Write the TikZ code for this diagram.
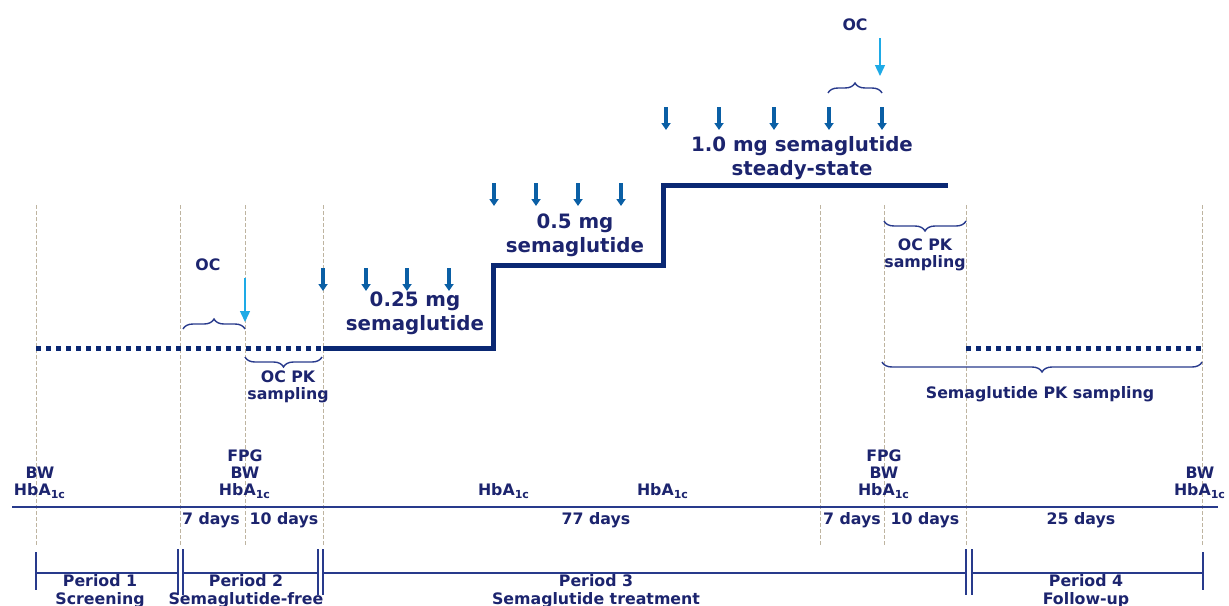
\documentclass[tikz,border=0pt]{standalone}
\usepackage{fontspec}
\setmainfont{DejaVu Sans}
\usetikzlibrary{arrows.meta,decorations.pathreplacing,calc}
\definecolor{navy}{RGB}{28,36,110}
\definecolor{lineblue}{RGB}{40,58,140}
\definecolor{doseblue}{RGB}{10,40,115}
\definecolor{ocblue}{RGB}{30,170,230}
\definecolor{injblue}{RGB}{10,95,165}
\definecolor{guidegray}{RGB}{190,180,160}

\begin{document}
\begin{tikzpicture}[x=0.5pt,y=-0.5pt]
\tikzset{
  lab/.style={font=\bfseries\fontsize{7.9}{8.7}\selectfont, text=navy, align=center, inner sep=0pt},
  doselab/.style={font=\bfseries\fontsize{9.9}{12.2}\selectfont, text=navy, align=center, inner sep=0pt},
  guide/.style={draw=guidegray, dashed, dash pattern=on 2pt off 1pt, line width=0.5pt},
  timeline/.style={draw=lineblue, line width=0.8pt},
  dosestep/.style={draw=doseblue, line width=2.5pt},
  offdose/.style={draw=doseblue, line width=2.5pt, dash pattern=on 2.5pt off 2.5pt},
  inj/.style={draw=injblue, line width=1.7pt, -{Triangle[length=3.5pt,width=4.5pt]}},
  ocarrow/.style={draw=ocblue, line width=0.7pt, -{Triangle[length=5.5pt,width=5pt]}},
  brc/.style={draw=lineblue, line width=0.7pt, decorate, decoration={brace, amplitude=5pt}},
  mbrc/.style={brc, decoration={brace, mirror, amplitude=5pt}}
}
\useasboundingbox (0,0) rectangle (1229,605);

\foreach \n/\x in {a/36, b/180, c/245, d/323, e/820, f/884, g/966, h/1202}{
  \coordinate (top\n) at (\x,205);
  \coordinate (bot\n) at (\x,546);
  \draw[guide] (top\n) -- (bot\n);
}

\coordinate (tlL) at (12,507);
\coordinate (tlR) at (1218,507);
\draw[timeline] (tlL) -- (tlR);

\coordinate (s0) at (36,348);
\coordinate (s1) at (323,348);
\coordinate (s2) at (493,348);
\coordinate (s3) at (493,265);
\coordinate (s4) at (663,265);
\coordinate (s5) at (663,185);
\coordinate (s6) at (948,185);
\coordinate (f0) at (966,348);
\coordinate (f1) at (1202,348);
\draw[offdose] (s0) -- (s1);
\draw[dosestep] (s1) -- (s2) -- (s3) -- (s4) -- (s5) -- (s6);
\draw[offdose] (f0) -- (f1);

\foreach \x in {323,366,407,449} \draw[inj] (\x,268) -- ++(0,23);
\foreach \x in {494,536,578,621} \draw[inj] (\x,183) -- ++(0,23);
\foreach \x in {666,719,774,829,882} \draw[inj] (\x,107) -- ++(0,23);

\node[doselab] (low) at (415,313) {0.25 mg\\semaglutide};
\node[doselab] (mid) at (575,235) {0.5 mg\\semaglutide};
\node[doselab] (high) at (802,158) {1.0 mg semaglutide\\steady-state};

\coordinate (oc1s) at (245,278);
\coordinate (oc1e) at (245,322);
\coordinate (oc2s) at (880,38);
\coordinate (oc2e) at (880,76);
\draw[ocarrow] (oc1s) -- (oc1e);
\draw[ocarrow] (oc2s) -- (oc2e);
\node[lab] (oc1) at (208,265) {OC};
\node[lab] (oc2) at (855,25) {OC};

\draw[brc] (183,329) -- (245,329);
\draw[brc] (828,93) -- (882,93);
\draw[mbrc] (245,357) -- (322,357);
\draw[mbrc] (884,221) -- (966,221);
\draw[mbrc] (882,362) -- (1202,362);
\node[lab] (pk1) at (288,387) {OC PK\\sampling};
\node[lab] (pk2) at (925,255) {OC PK\\sampling};
\node[lab] (pk3) at (1040,394) {Semaglutide PK sampling};

\node[lab, anchor=south] (v1) at (40,499) {BW\\HbA\textsubscript{1c}};
\node[lab, anchor=south] (v2) at (245,499) {FPG\\BW\\HbA\textsubscript{1c}};
\node[lab, anchor=south] (v3) at (504,499) {HbA\textsubscript{1c}};
\node[lab, anchor=south] (v4) at (663,499) {HbA\textsubscript{1c}};
\node[lab, anchor=south] (v5) at (884,499) {FPG\\BW\\HbA\textsubscript{1c}};
\node[lab, anchor=south] (v6) at (1200,499) {BW\\HbA\textsubscript{1c}};

\node[lab] (d1) at (211,520) {7 days};
\node[lab] (d2) at (284,520) {10 days};
\node[lab] (d3) at (596,520) {77 days};
\node[lab] (d4) at (852,520) {7 days};
\node[lab] (d5) at (925,520) {10 days};
\node[lab] (d6) at (1081,520) {25 days};

\draw[timeline] (36,552) -- (36,590) (36,573) -- (178,573);
\draw[timeline] (178,549) -- (178,595) (183,549) -- (183,595) (183,573) -- (318,573);
\draw[timeline] (318,549) -- (318,595) (323,549) -- (323,595) (323,573) -- (966,573);
\draw[timeline] (966,549) -- (966,595) (972,549) -- (972,595) (972,573) -- (1203,573);
\draw[timeline] (1203,552) -- (1203,590);
\node[lab] (per1) at (100,591) {Period 1\\Screening};
\node[lab] (per2) at (246,591) {Period 2\\Semaglutide-free};
\node[lab] (per3) at (596,591) {Period 3\\Semaglutide treatment};
\node[lab] (per4) at (1086,591) {Period 4\\Follow-up};
\end{tikzpicture}
\end{document}
